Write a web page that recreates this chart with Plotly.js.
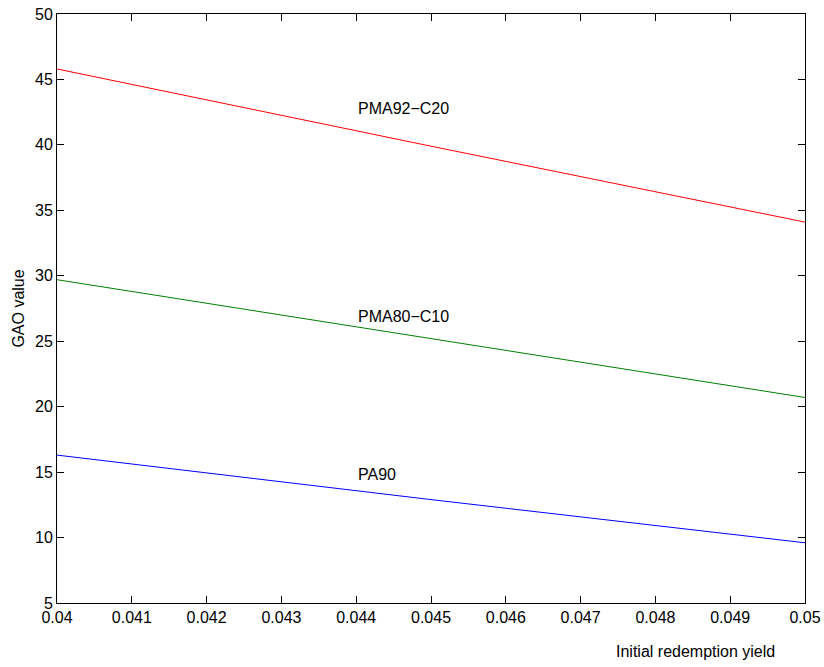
<!DOCTYPE html>
<html>
<head>
<meta charset="utf-8">
<script src="https://cdn.plot.ly/plotly-3.0.1.min.js"></script>
<style>html,body{margin:0;padding:0;background:#fff;}#chart{width:824px;height:667px;}</style>
</head>
<body>
<div id="chart"></div>
<script>
// Data
const yieldX = [0.04, 0.045, 0.05];
const pma92c20 = [45.8, 39.9, 34.1];
const pma80c10 = [29.7, 25.2, 20.7];
const pa90 = [16.3, 12.9, 9.6];
const seriesLabels = ["PMA92\u2212C20", "PMA80\u2212C10", "PA90"];
const labelX = [0.044, 0.044, 0.044];
const labelY = [42.8, 26.9, 14.8];
const xTicks = [0.04, 0.041, 0.042, 0.043, 0.044, 0.045, 0.046, 0.047, 0.048, 0.049, 0.05];
const xTickText = ["0.04", "0.041", "0.042", "0.043", "0.044", "0.045", "0.046", "0.047", "0.048", "0.049", "0.05"];
const yTicks = [5, 10, 15, 20, 25, 30, 35, 40, 45, 50];

const font = {family: "Liberation Sans, Arial, Helvetica, sans-serif", size: 16, color: "#000"};

const traces = [
  {x: yieldX, y: pma92c20, mode: "lines", line: {color: "#ff0000", width: 1}},
  {x: yieldX, y: pma80c10, mode: "lines", line: {color: "#008000", width: 1}},
  {x: yieldX, y: pa90, mode: "lines", line: {color: "#0000ff", width: 1}}
];

const annotations = seriesLabels.map((t, i) => ({
  x: labelX[i], y: labelY[i], xref: "x", yref: "y", text: t, showarrow: false,
  xanchor: "left", yanchor: "middle", font: font
}));
annotations.push({
  x: 0.853, y: -0.0815, xref: "paper", yref: "paper", text: "Initial redemption yield",
  showarrow: false, xanchor: "center", yanchor: "middle", font: font
});

const axisCommon = {
  showline: true, linecolor: "#000", linewidth: 1, mirror: "allticks",
  ticks: "inside", ticklen: 7, tickwidth: 1, tickcolor: "#000",
  showgrid: false, zeroline: false, tickfont: font
};

const layout = {
  width: 824, height: 667,
  margin: {l: 57, r: 19, t: 14, b: 64},
  paper_bgcolor: "#fff", plot_bgcolor: "#fff",
  showlegend: false,
  font: font,
  xaxis: Object.assign({}, axisCommon, {
    range: [0.04, 0.05], tickvals: xTicks, ticktext: xTickText
  }),
  yaxis: Object.assign({}, axisCommon, {
    range: [5, 50], tickvals: yTicks,
    title: {text: "GAO value", font: font, standoff: 6}
  }),
  annotations: annotations
};

Plotly.newPlot("chart", traces, layout, {displayModeBar: false, staticPlot: true});
</script>
</body>
</html>
